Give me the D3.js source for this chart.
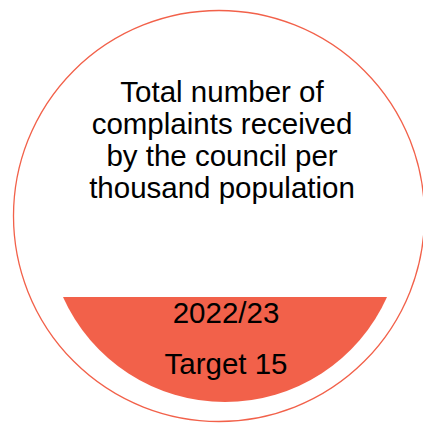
<!DOCTYPE html>
<html>
<head>
<meta charset="UTF-8">
<script src="https://cdn.jsdelivr.net/npm/d3@7"></script>
<style>
  html, body { margin: 0; padding: 0; background: #fff; }
</style>
</head>
<body>
<script>
const titleLines = ['Total number of', 'complaints received', 'by the council per', 'thousand population']
const period = ['2022/23']
const targetLabel = ['Target']
const targetValue = [15]

const width = 423, height = 423
const colour = '#f2614a'

const svg = d3.select('body')
  .append('svg')
  .attr('width', width)
  .attr('height', height)

// outer ring
svg.append('circle')
  .attr('cx', 219)
  .attr('cy', 216)
  .attr('r', 205.5)
  .attr('fill', 'none')
  .attr('stroke', colour)
  .attr('stroke-width', 1.3)

// filled bottom segment of inner circle, cut flat at y = 297
const cx = 225, cy = 224.5, r = 177.5, cutY = 297
const half = Math.sqrt(r * r - (cutY - cy) * (cutY - cy))
const a0 = Math.atan2(cutY - cy, half)
const a1 = Math.atan2(cutY - cy, -half)
const p = d3.path()
p.moveTo(cx - half, cutY)
p.lineTo(cx + half, cutY)
p.arc(cx, cy, r, a0, a1, false)
p.closePath()
svg.append('path')
  .attr('d', p.toString())
  .attr('fill', colour)

const font = '"Liberation Sans", Arial, sans-serif'
const fontSize = 29.5

// title
svg.append('g')
  .selectAll('text')
  .data(titleLines)
  .join('text')
  .attr('x', 222)
  .attr('y', (d, i) => 102 + i * 32)
  .attr('text-anchor', 'middle')
  .attr('font-family', font)
  .attr('font-size', fontSize)
  .attr('fill', '#000')
  .text(d => d)

svg.append('text')
  .attr('x', 226)
  .attr('y', 323)
  .attr('text-anchor', 'middle')
  .attr('font-family', font)
  .attr('font-size', fontSize)
  .attr('fill', '#000')
  .text(period[0])

svg.append('text')
  .attr('x', 226)
  .attr('y', 374)
  .attr('text-anchor', 'middle')
  .attr('font-family', font)
  .attr('font-size', fontSize)
  .attr('fill', '#000')
  .text(targetLabel[0] + ' ' + targetValue[0])
</script>
</body>
</html>
